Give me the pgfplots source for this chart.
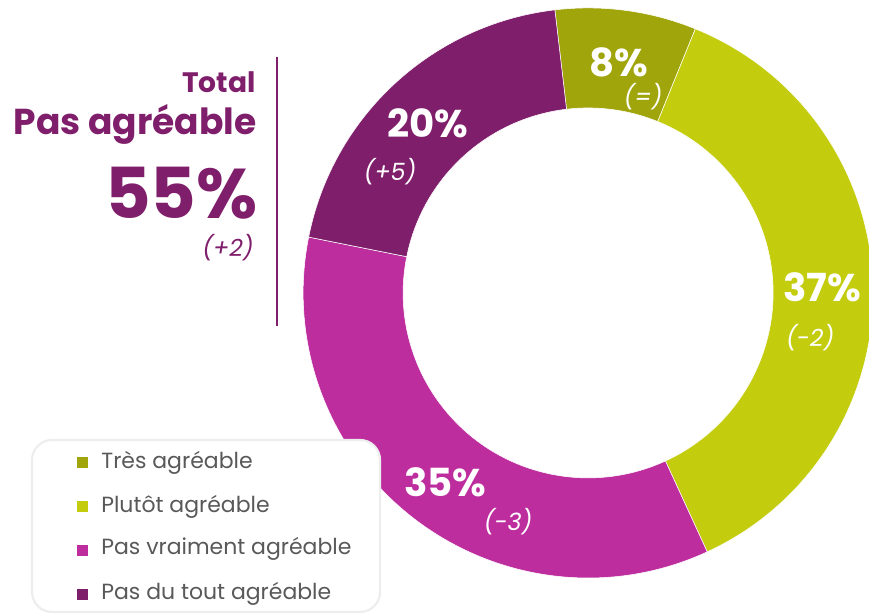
\documentclass[border=0pt]{standalone}
\usepackage{pgfplots}
\usepackage{pgfplotstable}
\usepackage{fontspec}
\setmainfont{Poppins}
\pgfplotsset{compat=1.18}

\definecolor{c0}{HTML}{A0A50C}
\definecolor{c1}{HTML}{C4CC0E}
\definecolor{c2}{HTML}{BD2D9E}
\definecolor{c3}{HTML}{7F1E6B}
\definecolor{legtxt}{HTML}{595959}
\definecolor{legbox}{HTML}{EDEDED}

% share (%), change, label position, change position (pixel coords, y up)
\pgfplotstableread{
value change lx ly cx cy
8  {(=)}  619 552 643 517
37 {(-2)} 822 327 810 276
35 {(-3)} 445 132 508 92
20 {(+5)} 428 491 390 442
}\donut

% start angle of the ring, then clockwise
\pgfmathsetmacro\cum{96.7}%
\pgfplotsforeachungrouped \i in {0,...,3}{%
  \pgfplotstablegetelem{\i}{value}\of\donut
  \pgfmathsetmacro\b{\cum-3.6*\pgfplotsretval}%
  \expandafter\xdef\csname sa\i\endcsname{\cum}%
  \expandafter\xdef\csname sb\i\endcsname{\b}%
  \global\let\cum\b
}%

\begin{document}
\begin{tikzpicture}
\path[use as bounding box] (0,0) rectangle (17.38cm,12.28cm);
\begin{axis}[x=0.02cm, y=0.02cm, xmin=0, xmax=869, ymin=0, ymax=614, hide axis,
  anchor=origin, at={(0,0)}]

% ring
\pgfplotsinvokeforeach{0,...,3}{
  \fill[c#1, draw=white, line width=0.3pt]
    ([shift={(\csname sa#1\endcsname:5.7cm)}]axis cs:588,321)
      arc[start angle=\csname sa#1\endcsname, end angle=\csname sb#1\endcsname, radius=5.7cm]
    -- ([shift={(\csname sb#1\endcsname:3.7cm)}]axis cs:588,321)
      arc[start angle=\csname sb#1\endcsname, end angle=\csname sa#1\endcsname, radius=3.7cm]
    -- cycle;
}

% values on the ring
\addplot[draw=none, mark=none, nodes near coords={\pgfplotspointmeta\%},
  point meta=explicit symbolic,
  every node near coord/.style={white, anchor=center, font=\bfseries\fontsize{22}{24}\selectfont}]
  table[x=lx, y=ly, meta=value] {\donut};
\addplot[draw=none, mark=none, nodes near coords,
  point meta=explicit symbolic,
  every node near coord/.style={white, anchor=center, font=\itshape\fontsize{13.5}{15}\selectfont}]
  table[x=cx, y=cy, meta=change] {\donut};

% total block
\draw[c3, line width=1.2pt] (axis cs:277,557) -- (axis cs:277,288);
\node[anchor=east, c3, font=\bfseries\fontsize{16}{18}\selectfont, inner sep=0pt] at (axis cs:256,532) {Total};
\node[anchor=east, c3, font=\bfseries\fontsize{20.5}{22}\selectfont, inner sep=0pt] at (axis cs:257,489) {Pas agréable};
\node[anchor=east, c3, font=\bfseries\fontsize{40}{42}\selectfont, inner sep=0pt] at (axis cs:258,421) {55\%};
\node[anchor=east, c3, font=\itshape\fontsize{13.5}{15}\selectfont, inner sep=0pt] at (axis cs:254,366) {(+2)};

% legend
\draw[legbox, line width=1.2pt, rounded corners=0.4cm, fill=white] (axis cs:32,2) rectangle (axis cs:380,174);
\pgfplotsinvokeforeach{0,...,3}{
  \fill[c#1] (axis cs:77,{151-44*#1-5.5}) rectangle (axis cs:88,{151-44*#1+5.5});
}
\node[anchor=west, legtxt, font=\fontsize{12.5}{14}\selectfont, inner sep=0pt] at (axis cs:101,151) {Très agréable};
\node[anchor=west, legtxt, font=\fontsize{12.5}{14}\selectfont, inner sep=0pt] at (axis cs:101,107) {Plutôt agréable};
\node[anchor=west, legtxt, font=\fontsize{12.5}{14}\selectfont, inner sep=0pt] at (axis cs:101,65) {Pas vraiment agréable};
\node[anchor=west, legtxt, font=\fontsize{12.5}{14}\selectfont, inner sep=0pt] at (axis cs:101,20) {Pas du tout agréable};
\end{axis}
\end{tikzpicture}
\end{document}
